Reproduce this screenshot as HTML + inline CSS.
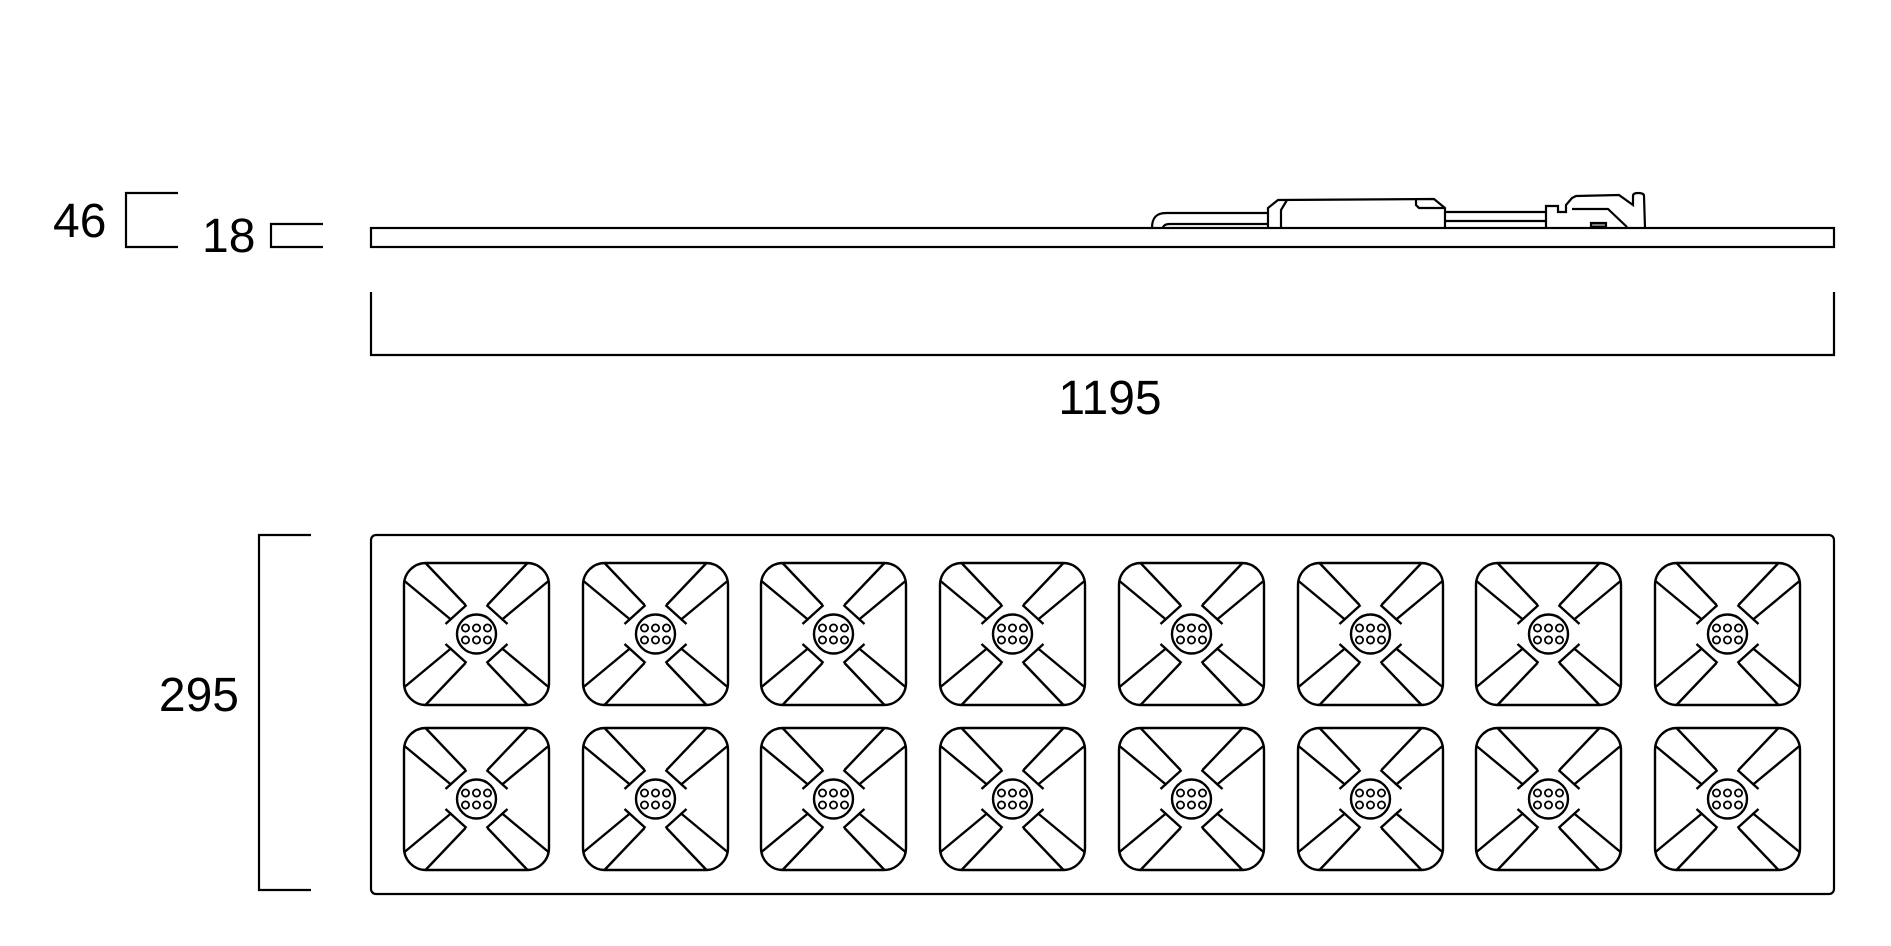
<!DOCTYPE html>
<html><head><style>
html,body{margin:0;padding:0;background:#fff;}
svg{display:block;}
text{font-family:"Liberation Sans",Arial,sans-serif;font-size:48px;fill:#000;}
</style></head><body>
<svg width="1891" height="946" viewBox="0 0 1891 946" xmlns="http://www.w3.org/2000/svg">
<defs>
<g id="cell" fill="none" stroke="#000" stroke-width="2.4">
  <rect x="0" y="0" width="145" height="142" rx="22" ry="22"/>
  <circle cx="72.5" cy="71" r="19.5"/>
  <g stroke-width="1.8">
    <circle cx="61.5" cy="65" r="3.6"/><circle cx="72.5" cy="65" r="3.6"/><circle cx="83.5" cy="65" r="3.6"/>
    <circle cx="61.5" cy="77" r="3.6"/><circle cx="72.5" cy="77" r="3.6"/><circle cx="83.5" cy="77" r="3.6"/>
  </g>
  <g id="arm" transform="translate(72.5,71)">
    <line x1="-51" y1="-71" x2="-11" y2="-29"/>
    <line x1="-72" y1="-53" x2="-25" y2="-14"/>
    <line x1="-31" y1="-10" x2="-10" y2="-29"/>
  </g>
  <g transform="translate(72.5,71) scale(-1,1) translate(-72.5,-71)"><use href="#arm"/></g>
  <g transform="translate(72.5,71) scale(1,-1) translate(-72.5,-71)"><use href="#arm"/></g>
  <g transform="translate(72.5,71) scale(-1,-1) translate(-72.5,-71)"><use href="#arm"/></g>
</g>
</defs>

<g fill="none" stroke="#000" stroke-width="2.2">
  <polyline points="178,193 126,193 126,247 178,247"/>
  <polyline points="323,224 271,224 271,247 323,247"/>
  <rect x="371" y="228" width="1463" height="19"/>
  <path d="M1152,228 C1152,218 1156,213 1166,213 L1268,213"/>
  <path d="M1163,228 C1163,226 1165,224 1170,224 L1268,224"/>
  <path d="M1268,228 L1268,208 L1278,200 L1434,199 L1445,208 L1445,228"/>
  <path d="M1287,200 L1281,210 L1281,228"/>
  <path d="M1416,199 L1416,205 L1419,208 L1445,208"/>
  <line x1="1445" y1="212" x2="1546" y2="212"/>
  <line x1="1445" y1="221" x2="1546" y2="221"/>
  <path d="M1546,228 L1546,206 L1558,206 L1558,212 L1566,212 L1566,205 L1572,198 L1576,196 L1619,195 L1633,205 L1633,196 Q1633,193 1638,193 Q1644,193 1644,196 L1645,228"/>
  <path d="M1572,209 L1608,209 L1627,227"/>
  <rect x="1591" y="223" width="15" height="4" fill="#888"/>
  <polyline points="371,292 371,355 1834,355 1834,292"/>
  <polyline points="311,535 259,535 259,890 311,890"/>
  <rect x="371" y="535" width="1463" height="359" rx="5" ry="5"/>
</g>

<text x="53" y="237">46</text>
<text x="202" y="252">18</text>
<text x="1110" y="414" text-anchor="middle">1195</text>
<text x="239" y="711" text-anchor="end">295</text>

<g>
  <use href="#cell" x="404" y="563"/><use href="#cell" x="583" y="563"/><use href="#cell" x="761" y="563"/><use href="#cell" x="940" y="563"/>
  <use href="#cell" x="1119" y="563"/><use href="#cell" x="1298" y="563"/><use href="#cell" x="1476" y="563"/><use href="#cell" x="1655" y="563"/>
  <use href="#cell" x="404" y="728"/><use href="#cell" x="583" y="728"/><use href="#cell" x="761" y="728"/><use href="#cell" x="940" y="728"/>
  <use href="#cell" x="1119" y="728"/><use href="#cell" x="1298" y="728"/><use href="#cell" x="1476" y="728"/><use href="#cell" x="1655" y="728"/>
</g>
</svg>
</body></html>
